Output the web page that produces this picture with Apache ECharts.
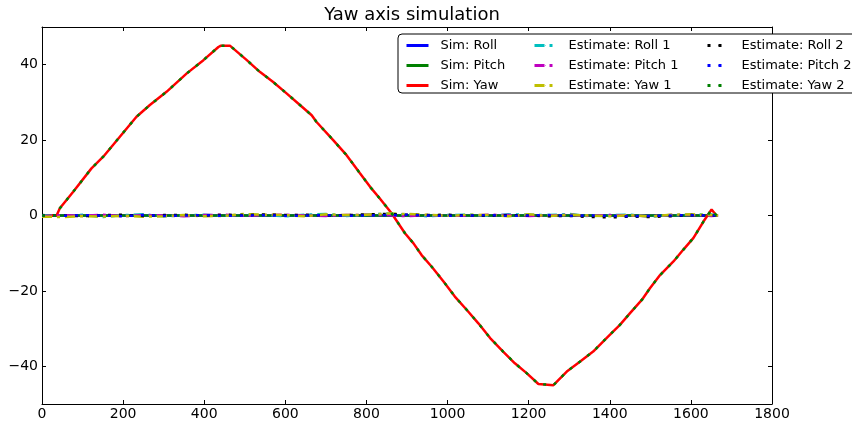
<!DOCTYPE html>
<html><head><meta charset="utf-8">
<script src="https://cdn.jsdelivr.net/npm/echarts@6/dist/echarts.min.js"></script>
<style>html,body{margin:0;padding:0;background:#fff}#c{width:852px;height:428px}</style>
</head><body><div id="c"></div>
<script>
// ---- data ----
const xTicks = [0, 200, 400, 600, 800, 1000, 1200, 1400, 1600, 1800];
const yTicks = [-40, -20, 0, 20, 40];

const simRoll = [[0, 0], [1667, 0]];
const simPitch = [[0, 0], [1667, 0]];
const simYaw = [[0,0],[36,0],[44,1.9],[77,6.3],[122,12.5],[151,15.6],[192,20.9],[233,26.2],[266,29.3],[307,32.8],[357,37.7],[398,41.2],[435,44.7],[440,45],[464,45],[505,41.2],[537,38.1],[570,35.4],[603,32.4],[636,29.3],[665,26.6],[677,24.8],[718,20],[751,16],[784,11.2],[809,7.6],[833,4.5],[862,0.6],[895,-4.7],[916,-7.4],[936,-10.5],[961,-13.6],[990,-17.5],[1018,-21.5],[1047,-25],[1076,-28.6],[1105,-32.5],[1137,-36.1],[1166,-39.2],[1195,-41.8],[1224,-44.7],[1228,-45],[1261,-45],[1294,-41.4],[1327,-38.7],[1359,-36.1],[1392,-32.5],[1425,-29],[1450,-25.9],[1479,-22.4],[1499,-19.3],[1524,-15.8],[1557,-12.2],[1581,-9.1],[1606,-6],[1631,-1.6],[1651,1.6],[1663,0],[1667,0]];

// near-zero estimates, sampled at noiseX
const noiseX = [0,50,100,150,200,250,300,350,400,450,500,550,600,650,700,750,800,850,900,950,1000,1050,1100,1150,1200,1250,1300,1350,1400,1450,1500,1550,1600,1650,1667];
const estRoll1  = [0.1,-0.3,0.2,-0.4,0.1,0.3,-0.2,0.0,0.2,-0.1,0.3,0.1,-0.2,0.2,0.4,-0.1,0.2,0.5,0.3,-0.2,0.1,0.2,-0.1,0.3,0.2,0.1,0.4,-0.2,0.1,0.2,-0.3,0.1,0.2,0.3,0.0];
const estPitch1 = [-0.2,0.1,-0.1,0.2,-0.2,0.1,0.0,-0.2,0.1,0.2,-0.1,0.1,0.2,0.0,-0.1,0.1,0.2,0.1,-0.2,0.1,0.0,-0.1,0.2,0.1,-0.1,0.0,0.2,-0.1,0.1,0.0,-0.2,0.1,0.1,-0.1,0.0];
const estYaw1   = [-0.3,-0.4,-0.2,-0.3,-0.1,-0.3,-0.2,0.1,-0.2,-0.1,0.4,0.2,0.1,-0.2,0.3,0.1,0.2,0.5,0.4,0.2,-0.1,0.2,0.1,-0.2,0.3,-0.1,0.2,0.0,-0.2,0.1,-0.3,0.2,0.3,0.1,0.0];
const estRoll2  = [0.1,0.0,-0.2,0.1,0.2,-0.1,0.1,0.2,0.0,0.2,0.1,0.3,0.1,0.2,0.0,0.1,0.3,0.4,0.2,0.1,0.2,0.0,-0.1,0.1,0.0,-0.2,-0.1,-0.4,-0.5,-0.3,-0.4,-0.2,0.1,0.0,0.0];
const estPitch2 = [0.0,-0.1,0.1,0.0,-0.2,0.1,-0.1,0.0,0.1,-0.1,0.0,0.1,-0.1,0.0,0.1,-0.1,0.0,0.1,0.2,0.0,-0.1,0.0,0.1,-0.1,0.0,0.1,-0.1,0.0,-0.1,-0.2,-0.1,0.0,0.1,0.0,0.0];
const estYaw2 = simYaw; // overlays the simulated yaw in the picture

// ---- chart ----
const FONT = 'DejaVu Sans';
const pair = arr => noiseX.map((x, i) => [x, arr[i]]);
const DASHDOT = [10, 5, 3, 5];
const DOT = [3, 8];
function line(name, data, color, type, width) {
  return { name, type: 'line', data, symbol: 'none', xAxisIndex: 0, yAxisIndex: 0,
    lineStyle: { color, width, type, cap: 'butt' }, itemStyle: { color }, animation: false };
}
const fmt = v => v < 0 ? '\u2212' + (-v) : String(v);
const tick = { show: true, inside: true, length: 4, lineStyle: { color: '#000', width: 1 } };
const aline = { show: true, onZero: false, lineStyle: { color: '#000', width: 1 } };
const legendBase = { orient: 'vertical', top: 39, padding: 0, itemWidth: 22, itemHeight: 1, itemGap: 7,
  selectedMode: false, z: 110, lineStyle: { width: 3 },
  textStyle: { fontFamily: FONT, fontSize: 13, color: '#000', padding: [0, 0, 0, 7] } };

const chart = echarts.init(document.getElementById('c'), null, { renderer: 'canvas' });
chart.setOption({
  backgroundColor: '#fff',
  animation: false,
  title: { text: 'Yaw axis simulation', left: 407, textAlign: 'center', top: 1,
    textStyle: { fontFamily: FONT, fontSize: 18, fontWeight: 'normal', color: '#000' } },
  grid: { left: 42, right: 80, top: 27, bottom: 24, containLabel: false },
  xAxis: [
    { type: 'value', position: 'bottom', min: 0, max: 1800, interval: 200,
      axisLine: aline, axisTick: tick, splitLine: { show: false },
      axisLabel: { margin: 3, fontFamily: FONT, fontSize: 14, color: '#000',
        customValues: xTicks, formatter: fmt } },
    { type: 'value', position: 'top', min: 0, max: 1800, interval: 200,
      axisLine: aline, axisTick: tick, splitLine: { show: false }, axisLabel: { show: false } }
  ],
  yAxis: [
    { type: 'value', position: 'left', min: -50, max: 50,
      axisLine: aline, splitLine: { show: false },
      axisTick: Object.assign({ customValues: yTicks }, tick),
      axisLabel: { margin: 4, fontFamily: FONT, fontSize: 14, color: '#000',
        customValues: yTicks, formatter: fmt } },
    { type: 'value', position: 'right', min: -50, max: 50,
      axisLine: aline, splitLine: { show: false },
      axisTick: Object.assign({ customValues: yTicks }, tick), axisLabel: { show: false } }
  ],
  graphic: [{ type: 'rect', z: 100, shape: { x: 398, y: 34, width: 470, height: 59, r: 4 },
    style: { fill: '#fff', stroke: '#000', lineWidth: 1 } }],
  legend: [
    Object.assign({ left: 405, data: ['Sim: Roll', 'Sim: Pitch', 'Sim: Yaw'] }, legendBase),
    Object.assign({ left: 533, data: ['Estimate: Roll 1', 'Estimate: Pitch 1', 'Estimate: Yaw 1'] }, legendBase),
    Object.assign({ left: 706, data: ['Estimate: Roll 2', 'Estimate: Pitch 2', 'Estimate: Yaw 2'] }, legendBase)
  ],
  series: [
    line('Sim: Roll', simRoll, '#0000ff', 'solid', 2.5),
    line('Sim: Pitch', simPitch, '#008000', 'solid', 2.5),
    line('Sim: Yaw', simYaw, '#ff0000', 'solid', 2.5),
    line('Estimate: Roll 1', pair(estRoll1), '#00bfbf', DASHDOT, 2.5),
    line('Estimate: Pitch 1', pair(estPitch1), '#bf00bf', DASHDOT, 2.5),
    line('Estimate: Yaw 1', pair(estYaw1), '#bfbf00', DASHDOT, 2.5),
    line('Estimate: Roll 2', pair(estRoll2), '#000000', DOT, 2.5),
    line('Estimate: Pitch 2', pair(estPitch2), '#0000ff', DOT, 2.5),
    line('Estimate: Yaw 2', estYaw2, '#008000', DOT, 2.5)
  ]
});
</script></body></html>
